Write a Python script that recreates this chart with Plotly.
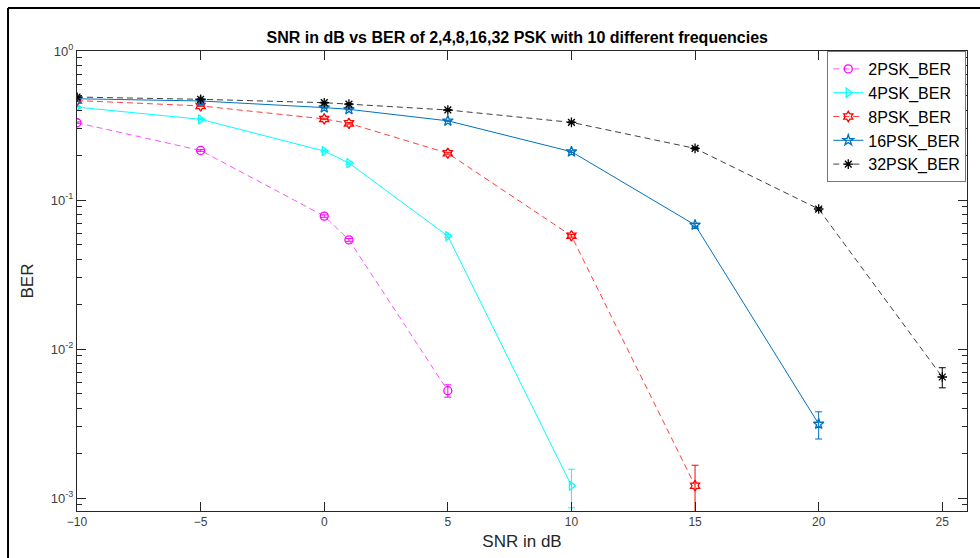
import plotly.graph_objects as go

snr = [-10, -5, 0, 1, 5, 10, 15, 20, 25]

ber_2psk = [0.330, 0.215, 0.078, 0.054, 0.00525]
err_2psk = [0.004, 0.003, 0.0015, 0.0012, 0.0005]

ber_4psk = [0.420, 0.348, 0.213, 0.177, 0.0573, 0.00121]
err_4psk = [0.004, 0.004, 0.003, 0.003, 0.0012, 0.00035]

ber_8psk = [0.465, 0.428, 0.350, 0.327, 0.206, 0.0575, 0.00121]
err_8psk = [0.004, 0.004, 0.004, 0.004, 0.003, 0.0012, 0.00045]

ber_16psk = [0.478, 0.462, 0.417, 0.406, 0.340, 0.211, 0.068, 0.00314]
err_16psk = [0.004, 0.004, 0.004, 0.004, 0.003, 0.003, 0.0015, 0.00065]

ber_32psk = [0.491, 0.474, 0.450, 0.440, 0.402, 0.332, 0.222, 0.0870, 0.00649]
err_32psk = [0.004, 0.004, 0.004, 0.004, 0.004, 0.003, 0.003, 0.002, 0.001]

names = ["2PSK_BER", "4PSK_BER", "8PSK_BER", "16PSK_BER", "32PSK_BER"]
colors = ["#FF00FF", "#00FFFF", "#FF0000", "#0072BD", "#000000"]
line_colors = ["#FF55FF", "#00FFFF", "#FF4040", "#0072BD", "#404040"]
dashes = ["6px,4px", "solid", "6px,4px", "solid", "6px,4px"]
symbols = ["circle-open", "triangle-right-open", "hexagram-open", "star-open", "asterisk-open"]
series = [(ber_2psk, err_2psk), (ber_4psk, err_4psk), (ber_8psk, err_8psk),
          (ber_16psk, err_16psk), (ber_32psk, err_32psk)]

ytick_vals = [1, 0.1, 0.01, 0.001]
ytick_text = ["10<sup>0</sup>", "10<sup>-1</sup>", "10<sup>-2</sup>", "10<sup>-3</sup>"]
xtick_vals = [-10, -5, 0, 5, 10, 15, 20, 25]
minor_vals = [m * 10 ** e for e in (-4, -3, -2, -1) for m in range(2, 10)]

fig = go.Figure()
for (ys, es), name, c, lc, d, s in zip(series, names, colors, line_colors, dashes, symbols):
    fig.add_trace(go.Scatter(
        x=snr[:len(ys)], y=ys, name=name, mode="lines+markers",
        line=dict(color=lc, width=1, dash=d),
        marker=dict(symbol=s, size=8, color=c, line=dict(color=c, width=1.3)),
        error_y=dict(type="data", array=es, visible=True, color=c, thickness=1, width=3.5),
    ))

font_family = "Liberation Sans, Arial, sans-serif"

fig.update_layout(
    width=980, height=558,
    margin=dict(l=77, r=13, t=51, b=47),
    paper_bgcolor="white", plot_bgcolor="white",
    font=dict(family=font_family, color="#262626"),
    title=dict(text="<b>SNR in dB vs BER of 2,4,8,16,32 PSK with 10 different frequencies</b>",
               x=0.5278, xanchor="center", y=0.933, yanchor="middle",
               font=dict(size=16, color="black")),
    xaxis=dict(range=[-10, 26], tickvals=xtick_vals, ticks="inside", ticklen=9,
               tickcolor="#262626", showline=True, linecolor="#262626", linewidth=1,
               mirror="ticks", showgrid=False, zeroline=False,
               tickfont=dict(size=12, color="#404040"),
               title=dict(text="SNR in dB", font=dict(size=17, color="#262626"), standoff=6)),
    yaxis=dict(type="log", range=[-3.087, 0], tickvals=ytick_vals, ticktext=ytick_text,
               ticks="inside", ticklen=9, tickcolor="#262626",
               showline=True, linecolor="#262626", linewidth=1, mirror="ticks",
               showgrid=False, zeroline=False,
               tickfont=dict(size=13, color="#404040"),
               minor=dict(tickvals=minor_vals, ticks="inside", ticklen=5,
                          tickcolor="#262626", showgrid=False),
               title=dict(text="BER", font=dict(size=17, color="#262626"), standoff=12)),
    legend=dict(x=0.843, xanchor="left", y=1.0, yanchor="top",
                bgcolor="white", bordercolor="#777777", borderwidth=1,
                font=dict(size=16, color="black"), tracegroupgap=0,
                itemwidth=30),
    showlegend=True,
    shapes=[
        dict(type="line", xref="paper", yref="paper", x0=-0.0775, x1=-0.0775,
             y0=1.0935, y1=-0.11, line=dict(color="black", width=2)),
        dict(type="line", xref="paper", yref="paper", x0=-0.0775, x1=1.02,
             y0=1.0935, y1=1.0935, line=dict(color="black", width=2)),
    ],
)

fig.write_html("out.html")
